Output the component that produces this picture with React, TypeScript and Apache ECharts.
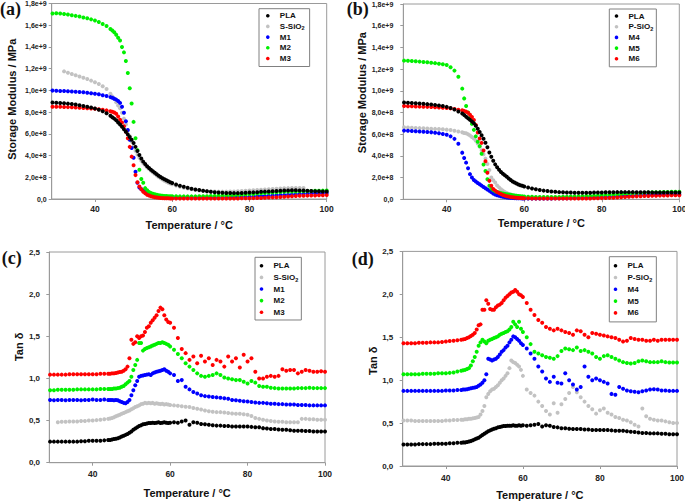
import React, { useEffect, useRef } from "react";
import * as echarts from "echarts";

// Temperature grid (°C) shared by every series
const TEMPS = [
  29, 30, 31, 32, 33, 34, 35, 36, 37, 38, 39, 40, 41, 42, 43, 44,
  44.5, 45, 45.5, 46, 46.5, 47, 47.5, 48, 48.5, 49, 49.5, 50, 50.5, 51, 51.5, 52, 52.5, 53, 53.5, 54, 54.5, 55, 55.5, 56, 56.5, 57, 57.5, 58, 58.5, 59, 59.5, 60,
  61, 62, 63, 64, 65, 66, 67, 68, 69, 70, 71, 72, 73, 74, 75, 76, 77, 78, 79, 80, 81, 82, 83, 84, 85, 86, 87, 88, 89, 90, 91, 92, 93, 94, 95, 96, 97, 98, 99, 100,
];

const X_TICKS = [40, 60, 80, 100];
const MOD_TICKS = ["0,0", "2,0e+8", "4,0e+8", "6,0e+8", "8,0e+8", "1,0e+9", "1,2e+9", "1,4e+9", "1,6e+9", "1,8e+9"];
const TAN_TICKS = ["0,0", "0,5", "1,0", "1,5", "2,0", "2,5"];

// (a) storage modulus, units of 1e8
const PLA_A = [
  8.88, 8.86, 8.84, 8.82, 8.78, 8.74, 8.70, 8.64, 8.57, 8.50, 8.42, 8.33, 8.22, 8.08, 7.90, 7.66,
  7.53, 7.40, 7.25, 7.05, 6.85, 6.65, 6.42, 6.20, 5.95, 5.70, 5.45, 5.15, 4.80, 4.42, 4.05, 3.72, 3.44, 3.22, 3.02, 2.86, 2.70, 2.55, 2.41, 2.28, 2.15, 2.03, 1.92, 1.82, 1.72, 1.63, 1.55, 1.47,
  1.34, 1.22, 1.12, 1.03, 0.95, 0.88, 0.82, 0.76, 0.71, 0.67, 0.63, 0.60, 0.58, 0.56, 0.55, 0.54, 0.54, 0.55, 0.57, 0.59, 0.61, 0.63, 0.66, 0.68, 0.70, 0.72, 0.74, 0.76, 0.78, 0.79, 0.80, 0.80, 0.79, 0.78, 0.76, 0.74, 0.72, 0.71, 0.70, 0.70,
];
const SSIO_A = [
  null, null, null, 11.75, 11.62, 11.50, 11.40, 11.28, 11.16, 11.04, 10.90, 10.75, 10.58, 10.38, 10.12, 9.70,
  9.45, 9.20, 8.90, 8.60, 8.35, 7.95, 7.40, 6.85, 6.30, 5.80, 5.30, 4.85, 4.45, 4.10, 3.80, 3.52, 3.30, 3.10, 2.92, 2.76, 2.60, 2.45, 2.30, 2.16, 2.03, 1.91, 1.80, 1.69, 1.59, 1.50, 1.42, 1.35,
  1.23, 1.13, 1.04, 0.97, 0.90, 0.84, 0.79, 0.75, 0.72, 0.70, 0.69, 0.68, 0.68, 0.68, 0.69, 0.70, 0.72, 0.74, 0.76, 0.78, 0.80, 0.82, 0.85, 0.88, 0.90, 0.93, 0.95, 0.97, 0.99, 1.00, 1.01, 1.02, 1.02, 1.02, null, null, null, null, null, null,
];
const M1_A = [
  9.98, 9.96, 9.95, 9.94, 9.92, 9.90, 9.88, 9.85, 9.82, 9.78, 9.74, 9.70, 9.64, 9.56, 9.48, 9.38,
  9.32, 9.24, 9.15, 9.02, 8.85, 8.50, 7.95, 7.15, 6.35, 5.45, 4.70, 3.80, 2.50, 1.50, 1.05, 0.90, 0.78, 0.64, 0.52, 0.42, 0.35, 0.30, 0.26, 0.23, 0.21, 0.19, 0.17, 0.16, 0.15, 0.14, 0.14, 0.13,
  0.13, 0.13, 0.13, 0.13, 0.13, 0.13, 0.13, 0.13, 0.13, 0.14, 0.14, 0.15, 0.15, 0.16, 0.17, 0.18, 0.19, 0.20, 0.21, 0.22, 0.23, 0.25, 0.27, 0.28, 0.30, 0.32, 0.34, 0.36, 0.38, 0.40, 0.42, 0.44, 0.46, 0.48, 0.50, 0.52, 0.53, 0.54, 0.55, 0.56,
];
const M2_A = [
  17.08, 17.10, 17.08, 17.04, 16.98, 16.92, 16.86, 16.80, 16.72, 16.64, 16.54, 16.44, 16.30, 16.12, 15.92, 15.66,
  15.52, 15.35, 15.12, 14.85, 14.60, 14.00, 13.50, 12.70, 11.60, 10.20, 8.80, 7.10, 5.60, 4.50, 2.70, 1.85, 1.50, 1.00, 0.80, 0.65, 0.55, 0.48, 0.43, 0.39, 0.35, 0.32, 0.30, 0.28, 0.27, 0.26, 0.25, 0.25,
  0.25, 0.24, 0.24, 0.24, 0.24, 0.24, 0.25, 0.25, 0.26, 0.27, 0.28, 0.29, 0.30, 0.32, 0.33, 0.35, 0.37, 0.40, 0.42, 0.45, 0.47, 0.50, 0.53, 0.56, 0.58, 0.60, 0.62, 0.64, 0.66, 0.68, 0.69, 0.70, 0.71, 0.72, 0.73, 0.74, 0.75, 0.76, 0.77, 0.78,
];
const M3_A = [
  8.50, 8.50, 8.49, 8.48, 8.46, 8.44, 8.42, 8.40, 8.38, 8.36, 8.34, 8.31, 8.27, 8.22, 8.16, 8.08,
  8.03, 7.96, 7.85, 7.60, 7.30, 7.05, 6.70, 6.20, 5.60, 4.80, 3.90, 3.10, 2.20, 1.55, 1.15, 0.90, 0.67, 0.52, 0.40, 0.32, 0.26, 0.20, 0.16, 0.13, 0.11, 0.09, 0.08, 0.07, 0.06, 0.06, 0.05, 0.05,
  0.05, 0.05, 0.05, 0.05, 0.05, 0.05, 0.05, 0.05, 0.05, 0.05, 0.05, 0.05, 0.05, 0.05, 0.05, 0.05, 0.05, 0.06, 0.06, 0.07, 0.08, 0.09, 0.10, 0.11, 0.13, 0.15, 0.17, 0.19, 0.21, 0.23, 0.25, 0.27, 0.29, 0.30, 0.31, 0.32, 0.33, 0.34, 0.35, 0.36,
];

// (b) storage modulus, units of 1e8
const PLA_B = [
  8.92, 8.90, 8.88, 8.86, 8.83, 8.80, 8.77, 8.73, 8.69, 8.65, 8.60, 8.52, 8.42, 8.28, 8.10, 7.90,
  7.76, 7.60, 7.46, 7.32, 7.17, 7.00, 6.78, 6.50, 6.20, 5.90, 5.58, 5.22, 4.80, 4.32, 3.92, 3.55, 3.22, 2.95, 2.72, 2.52, 2.36, 2.22, 2.07, 1.92, 1.77, 1.64, 1.54, 1.45, 1.37, 1.30, 1.24, 1.18,
  1.08, 0.99, 0.92, 0.86, 0.80, 0.76, 0.72, 0.69, 0.66, 0.64, 0.63, 0.62, 0.61, 0.61, 0.61, 0.61, 0.61, 0.62, 0.62, 0.63, 0.64, 0.65, 0.65, 0.66, 0.66, 0.66, 0.66, 0.66, 0.65, 0.65, 0.64, 0.64, 0.63, 0.63, 0.63, 0.62, 0.62, 0.62, 0.62, 0.62,
];
const PSIO_B = [
  6.64, 6.62, 6.60, 6.58, 6.56, 6.54, 6.53, 6.51, 6.49, 6.47, 6.45, 6.42, 6.38, 6.32, 6.25, 6.17,
  6.12, 6.08, 6.00, 5.88, 5.75, 5.60, 5.40, 5.15, 4.85, 4.52, 4.15, 3.75, 3.25, 2.70, 2.00, 1.75, 1.55, 1.28, 1.10, 0.93, 0.80, 0.68, 0.58, 0.50, 0.44, 0.39, 0.35, 0.32, 0.29, 0.26, 0.24, 0.22,
  0.19, 0.17, 0.15, 0.14, 0.13, 0.12, 0.12, 0.11, 0.11, 0.11, 0.11, 0.11, 0.11, 0.11, 0.12, 0.12, 0.13, 0.14, 0.15, 0.16, 0.17, 0.19, 0.21, 0.23, 0.25, 0.27, 0.29, 0.31, 0.33, 0.34, 0.35, 0.36, 0.37, 0.38, 0.39, 0.39, 0.40, 0.40, 0.40, 0.40,
];
const M4_B = [
  6.33, 6.31, 6.29, 6.27, 6.24, 6.22, 6.20, 6.17, 6.13, 6.08, 6.02, 5.94, 5.80, 5.57, 5.12, 4.30,
  3.80, 3.38, 2.86, 2.32, 2.00, 1.78, 1.64, 1.50, 1.38, 1.26, 1.14, 1.02, 0.90, 0.78, 0.66, 0.54, 0.45, 0.38, 0.32, 0.27, 0.23, 0.20, 0.17, 0.15, 0.13, 0.12, 0.11, 0.10, 0.09, 0.09, 0.08, 0.08,
  0.08, 0.08, 0.08, 0.08, 0.08, 0.08, 0.08, 0.09, 0.09, 0.10, 0.10, 0.11, 0.12, 0.13, 0.14, 0.15, 0.16, 0.17, 0.19, 0.20, 0.22, 0.24, 0.26, 0.28, 0.30, 0.32, 0.34, 0.36, 0.38, 0.40, 0.41, 0.42, 0.43, 0.44, 0.45, 0.45, 0.46, 0.46, 0.46, 0.46,
];
const M5_B = [
  12.78, 12.77, 12.75, 12.72, 12.69, 12.66, 12.63, 12.59, 12.55, 12.50, 12.44, 12.38, 12.18, 11.86, 11.30, 10.20,
  9.30, 8.60, 8.00, 7.50, 6.95, 6.40, 5.80, 5.30, 4.90, 4.20, 3.20, 2.60, 1.85, 1.25, 1.00, 0.85, 0.75, 0.68, 0.62, 0.57, 0.53, 0.50, 0.47, 0.44, 0.41, 0.38, 0.35, 0.33, 0.31, 0.29, 0.27, 0.26,
  0.24, 0.23, 0.22, 0.21, 0.21, 0.21, 0.21, 0.22, 0.22, 0.23, 0.24, 0.25, 0.26, 0.27, 0.28, 0.30, 0.31, 0.33, 0.35, 0.37, 0.39, 0.41, 0.43, 0.46, 0.48, 0.50, 0.53, 0.55, 0.57, 0.59, 0.61, 0.62, 0.64, 0.65, 0.66, 0.67, 0.68, 0.69, 0.70, 0.70,
];
const M6_B = [
  8.60, 8.58, 8.57, 8.56, 8.54, 8.53, 8.52, 8.50, 8.48, 8.46, 8.44, 8.41, 8.38, 8.33, 8.26, 8.20,
  8.14, 8.08, 7.98, 7.80, 7.58, 7.31, 6.85, 6.15, 5.60, 5.20, 4.50, 3.50, 2.45, 1.70, 1.25, 0.95, 0.80, 0.68, 0.57, 0.48, 0.40, 0.34, 0.29, 0.25, 0.22, 0.19, 0.17, 0.15, 0.13, 0.12, 0.11, 0.10,
  0.09, 0.08, 0.08, 0.07, 0.07, 0.07, 0.07, 0.07, 0.07, 0.07, 0.07, 0.07, 0.07, 0.07, 0.07, 0.08, 0.08, 0.09, 0.10, 0.11, 0.12, 0.13, 0.15, 0.17, 0.19, 0.21, 0.23, 0.25, 0.27, 0.29, 0.30, 0.31, 0.32, 0.33, 0.34, 0.35, 0.36, 0.37, 0.38, 0.38,
];

// (c) tan delta
const PLA_C = [
  0.25, 0.25, 0.25, 0.25, 0.25, 0.25, 0.25, 0.25, 0.255, 0.255, 0.26, 0.26, 0.26, 0.26, 0.265, 0.27,
  0.27, 0.275, 0.28, 0.285, 0.29, 0.30, 0.31, 0.32, 0.33, 0.34, 0.355, 0.37, 0.39, 0.405, 0.42, 0.435, 0.445, 0.455, 0.46, 0.465, 0.47, 0.47, 0.475, 0.47, 0.475, 0.48, 0.47, 0.475, 0.48, 0.475, 0.47, 0.475,
  0.48, 0.475, 0.49, 0.50, 0.45, 0.48, 0.475, 0.46, 0.455, 0.45, 0.445, 0.44, 0.44, 0.435, 0.435, 0.43, 0.43, 0.43, 0.43, 0.43, 0.425, 0.42, 0.42, 0.41, 0.405, 0.40, 0.40, 0.395, 0.39, 0.39, 0.385, 0.38, 0.38, 0.38, 0.375, 0.375, 0.37, 0.37, 0.37, 0.37,
];
const SSIO_C = [
  null, null, 0.48, 0.485, 0.485, 0.49, 0.49, 0.49, 0.495, 0.495, 0.50, 0.50, 0.505, 0.51, 0.515, 0.52,
  0.525, 0.53, 0.54, 0.55, 0.56, 0.57, 0.58, 0.59, 0.60, 0.61, 0.62, 0.635, 0.645, 0.66, 0.67, 0.68, 0.695, 0.70, 0.71, 0.705, 0.71, 0.705, 0.71, 0.70, 0.705, 0.70, 0.695, 0.70, 0.69, 0.695, 0.69, 0.685,
  0.68, 0.675, 0.67, 0.665, 0.66, 0.65, 0.64, 0.63, 0.62, 0.61, 0.605, 0.60, 0.60, 0.595, 0.59, 0.585, 0.58, 0.58, 0.575, 0.57, 0.555, 0.53, 0.52, 0.51, 0.50, 0.495, 0.49, 0.485, 0.485, 0.48, 0.48, 0.48, 0.48, 0.52, 0.52, 0.515, 0.515, 0.51, 0.51, 0.51,
];
const M1_C = [
  0.745, 0.74, 0.745, 0.745, 0.74, 0.745, 0.745, 0.745, 0.74, 0.745, 0.745, 0.75, 0.745, 0.745, 0.75, 0.745,
  0.745, 0.745, 0.74, 0.745, 0.74, 0.73, 0.72, 0.71, 0.705, 0.72, 0.745, 0.80, 0.86, 0.92, 0.97, 1.02, 1.03, 1.035, 1.04, 1.045, 1.05, 1.04, 1.06, 1.07, 1.08, 1.085, 1.09, 1.10, 1.11, 1.09, 1.08, 1.06,
  1.04, 0.97, 0.98, 0.90, 0.87, 0.84, 0.82, 0.80, 0.79, 0.785, 0.78, 0.775, 0.77, 0.765, 0.76, 0.745, 0.74, 0.735, 0.73, 0.725, 0.72, 0.715, 0.71, 0.71, 0.705, 0.70, 0.70, 0.695, 0.695, 0.69, 0.69, 0.69, 0.685, 0.685, 0.685, 0.68, 0.68, 0.68, 0.68, 0.68,
];
const M2_C = [
  0.86, 0.86, 0.865, 0.865, 0.865, 0.865, 0.865, 0.87, 0.87, 0.87, 0.87, 0.87, 0.87, 0.875, 0.875, 0.875,
  0.875, 0.875, 0.88, 0.88, 0.885, 0.89, 0.90, 0.91, 0.93, 0.95, 0.97, 1.02, 1.10, 1.16, 1.22, 1.42, 1.42, 1.33, 1.35, 1.36, 1.37, 1.38, 1.39, 1.40, 1.41, 1.42, 1.42, 1.43, 1.42, 1.41, 1.40, 1.38,
  1.34, 1.29, 1.24, 1.18, 1.14, 1.10, 1.06, 1.03, 1.02, 1.03, 1.04, 1.06, 1.04, 1.01, 1.00, 0.99, 0.98, 0.98, 0.96, 0.94, 0.97, 0.95, 0.91, 0.90, 0.90, 0.89, 0.885, 0.88, 0.88, 0.88, 0.88, 0.88, 0.885, 0.885, 0.885, 0.89, 0.885, 0.885, 0.885, 0.885,
];
const M3_C = [
  1.045, 1.045, 1.045, 1.045, 1.045, 1.05, 1.05, 1.05, 1.05, 1.05, 1.05, 1.05, 1.05, 1.055, 1.055, 1.055,
  1.055, 1.06, 1.06, 1.065, 1.07, 1.075, 1.08, 1.09, 1.11, 1.14, 1.24, 1.46, 1.41, 1.43, 1.50, 1.48, 1.50, 1.51, 1.55, 1.60, 1.62, 1.66, 1.69, 1.72, 1.75, 1.80, 1.84, 1.82, 1.75, 1.70, 1.67, 1.66,
  1.60, 1.48, 1.35, 1.30, 1.22, 1.26, 1.18, 1.27, 1.20, 1.24, 1.16, 1.22, 1.20, 1.14, 1.26, 1.20, 1.24, 1.13, 1.28, 1.20, 1.24, 1.08, 1.00, 1.00, 1.02, 1.03, 1.02, 1.03, 1.11, 1.09, 1.10, 1.10, 1.06, 1.08, 1.10, 1.09, 1.08, 1.08, 1.085, 1.08,
];

// (d) tan delta
const PLA_D = [
  0.25, 0.25, 0.25, 0.25, 0.255, 0.255, 0.255, 0.255, 0.26, 0.26, 0.26, 0.26, 0.265, 0.265, 0.27, 0.27,
  0.275, 0.275, 0.28, 0.285, 0.29, 0.30, 0.31, 0.32, 0.33, 0.345, 0.36, 0.375, 0.39, 0.405, 0.415, 0.425, 0.435, 0.44, 0.45, 0.455, 0.46, 0.465, 0.465, 0.47, 0.47, 0.47, 0.475, 0.47, 0.47, 0.475, 0.47, 0.475,
  0.47, 0.475, 0.48, 0.49, 0.46, 0.475, 0.47, 0.455, 0.45, 0.44, 0.44, 0.435, 0.43, 0.43, 0.43, 0.425, 0.425, 0.42, 0.42, 0.42, 0.42, 0.42, 0.415, 0.41, 0.41, 0.41, 0.405, 0.40, 0.395, 0.39, 0.385, 0.385, 0.38, 0.38, 0.38, 0.375, 0.375, 0.37, 0.37, 0.37,
];
const PSIO_D = [
  0.53, 0.53, 0.53, 0.525, 0.525, 0.525, 0.525, 0.525, 0.525, 0.525, 0.525, 0.53, 0.53, 0.535, 0.535, 0.54,
  0.54, 0.545, 0.545, 0.55, 0.55, 0.555, 0.56, 0.565, 0.57, 0.60, 0.64, 0.70, 0.80, 0.84, 0.87, 0.89, 0.90, 0.92, 0.94, 0.97, 1.00, 1.02, 1.05, 1.08, 1.14, 1.23, 1.21, 1.20, 1.18, 1.16, 1.12, 1.05,
  0.89, 0.85, 0.82, 0.75, 0.70, 0.64, 0.60, 0.73, 0.62, 0.72, 0.78, 0.85, 0.92, 0.86, 0.80, 0.75, 0.70, 0.66, 0.61, 0.65, 0.67, 0.62, 0.60, 0.57, 0.56, 0.54, 0.53, 0.51, 0.48, 0.46, 0.67, 0.58, 0.55, 0.54, 0.53, 0.53, 0.52, 0.51, 0.50, 0.50,
];
const M4_D = [
  0.875, 0.875, 0.875, 0.875, 0.875, 0.875, 0.875, 0.875, 0.875, 0.875, 0.875, 0.88, 0.88, 0.88, 0.885, 0.885,
  0.89, 0.89, 0.895, 0.90, 0.905, 0.91, 0.915, 0.92, 0.935, 0.95, 0.97, 1.00, 1.07, 1.25, 1.24, 1.23, 1.24, 1.25, 1.27, 1.30, 1.33, 1.35, 1.38, 1.40, 1.44, 1.47, 1.51, 1.50, 1.48, 1.46, 1.43, 1.41,
  1.37, 1.31, 1.25, 1.16, 1.10, 1.02, 0.98, 1.04, 0.97, 0.96, 1.08, 1.00, 0.95, 0.89, 0.92, 1.16, 1.04, 1.00, 1.02, 1.00, 0.98, 0.96, 0.84, 0.83, 0.92, 0.90, 0.88, 0.87, 0.865, 0.86, 0.87, 0.88, 0.89, 0.895, 0.89, 0.88, 0.88, 0.875, 0.875, 0.875,
];
const M5_D = [
  1.07, 1.07, 1.07, 1.07, 1.07, 1.075, 1.075, 1.075, 1.075, 1.08, 1.08, 1.08, 1.085, 1.09, 1.10, 1.11,
  1.115, 1.12, 1.13, 1.14, 1.17, 1.22, 1.27, 1.33, 1.40, 1.44, 1.47, 1.45, 1.43, 1.46, 1.47, 1.48, 1.49, 1.50, 1.51, 1.53, 1.54, 1.55, 1.56, 1.57, 1.59, 1.62, 1.68, 1.65, 1.62, 1.68, 1.60, 1.56,
  1.50, 1.42, 1.33, 1.31, 1.29, 1.27, 1.26, 1.25, 1.28, 1.34, 1.37, 1.36, 1.35, 1.38, 1.34, 1.35, 1.33, 1.31, 1.27, 1.25, 1.28, 1.29, 1.27, 1.25, 1.23, 1.21, 1.20, 1.195, 1.20, 1.22, 1.23, 1.22, 1.21, 1.21, 1.21, 1.22, 1.21, 1.205, 1.205, 1.205,
];
const M6_D = [
  1.43, 1.43, 1.43, 1.43, 1.435, 1.435, 1.435, 1.44, 1.44, 1.44, 1.445, 1.45, 1.455, 1.46, 1.465, 1.47,
  1.475, 1.48, 1.49, 1.50, 1.515, 1.53, 1.55, 1.59, 1.64, 1.65, 1.82, 1.82, 1.93, 1.89, 1.83, 1.82, 1.82, 1.85, 1.87, 1.88, 1.90, 1.93, 1.96, 1.98, 2.00, 2.02, 2.03, 2.05, 2.03, 2.00, 1.99, 1.97,
  1.90, 1.82, 1.76, 1.70, 1.67, 1.62, 1.60, 1.58, 1.60, 1.58, 1.56, 1.55, 1.53, 1.58, 1.57, 1.53, 1.50, 1.55, 1.54, 1.53, 1.52, 1.51, 1.50, 1.49, 1.47, 1.45, 1.46, 1.49, 1.48, 1.47, 1.47, 1.46, 1.46, 1.47, 1.46, 1.47, 1.47, 1.47, 1.47, 1.47,
];

const FONT = '"Liberation Sans", Arial, sans-serif';
const BLACK = "#000000";
const GRAY = "#c2c2c2";
const BLUE = "#0000ff";
const GREEN = "#00f000";
const RED = "#ff0000";

const pairs = (vals: (number | null)[]) =>
  TEMPS.map((t, i) => (vals[i] == null ? null : [t, vals[i]])).filter((p) => p !== null);

const PANELS = [
  {
    letter: "(a)", letterX: 0, letterY: 9,
    grid: { left: 51.7, top: 3.5, width: 275, height: 195.5 },
    kind: "mod",
    xLabelMargin: 5, xNameGap: 20.5, yLabelMargin: 5, yNameGap: 34, yNamePad: [0, 0, 0, 4],
    legend: { left: 259, top: 8.7, padding: [2, 5, 3, 7], lineHeight: 10, itemGap: 0.7 },
    series: [["PLA", PLA_A, BLACK], ["S-SiO2", SSIO_A, GRAY], ["M1", M1_A, BLUE], ["M2", M2_A, GREEN], ["M3", M3_A, RED]],
  },
  {
    letter: "(b)", letterX: 346.7, letterY: 9,
    grid: { left: 403.3, top: 4, width: 276, height: 195.3 },
    kind: "mod",
    xLabelMargin: 5.4, xNameGap: 18.5, yLabelMargin: 10, yNameGap: 35, yNamePad: [0, 0, 0, 18],
    legend: { left: 609.3, top: 9, padding: [2, 3, 3, 5.4], lineHeight: 10, itemGap: 0.7 },
    series: [["PLA", PLA_B, BLACK], ["P-SiO2", PSIO_B, GRAY], ["M4", M4_B, BLUE], ["M5", M5_B, GREEN], ["M6", M6_B, RED]],
  },
  {
    letter: "(c)", letterX: 1.7, letterY: 258,
    grid: { left: 49.3, top: 252, width: 275.7, height: 210.7 },
    kind: "tan",
    xLabelMargin: 6.3, xNameGap: 24.5, yLabelMargin: 9.3, yNameGap: 22, yNamePad: [0, 0, 0, 21],
    legend: { left: 255, top: 257.3, padding: [3, 3, 2.3, 4.7], lineHeight: 11, itemGap: 0.6 },
    series: [["PLA", PLA_C, BLACK], ["S-SiO2", SSIO_C, GRAY], ["M1", M1_C, BLUE], ["M2", M2_C, GREEN], ["M3", M3_C, RED]],
  },
  {
    letter: "(d)", letterX: 351.7, letterY: 258.5,
    grid: { left: 402.7, top: 251.4, width: 274.3, height: 214.6 },
    kind: "tan",
    xLabelMargin: 7, xNameGap: 23.8, yLabelMargin: 9.4, yNameGap: 20.5, yNamePad: [0, 4, 0, 0],
    legend: { left: 609.3, top: 256.7, padding: [3.5, 4, 3.5, 4.4], lineHeight: 11, itemGap: 0.8 },
    series: [["PLA", PLA_D, BLACK], ["P-SiO2", PSIO_D, GRAY], ["M4", M4_D, BLUE], ["M5", M5_D, GREEN], ["M6", M6_D, RED]],
  },
];

const AXIS_GRAY = "#9a9a9a";

function buildOption() {
  const grid = PANELS.map((p) => ({
    ...p.grid,
    show: true,
    borderColor: AXIS_GRAY,
    borderWidth: 1,
    backgroundColor: "transparent",
    containLabel: false,
    outerBoundsMode: "none",
  }));

  const xAxis = PANELS.map((p, i) => ({
    type: "value",
    gridIndex: i,
    min: 28.8,
    max: 100,
    axisLine: { show: true, lineStyle: { color: AXIS_GRAY, width: 1 } },
    axisTick: { show: true, length: 3, inside: false, customValues: X_TICKS, lineStyle: { color: AXIS_GRAY } },
    axisLabel: {
      customValues: X_TICKS,
      margin: p.xLabelMargin,
      fontSize: 8.5,
      fontWeight: "bold",
      color: "#222",
      fontFamily: FONT,
    },
    splitLine: { show: false },
    name: "Temperature / °C",
    nameLocation: "middle",
    nameGap: p.xNameGap,
    nameTextStyle: { fontSize: 11, fontWeight: "bold", color: "#111", fontFamily: FONT },
  }));

  const yAxis = PANELS.map((p, i) => {
    const isMod = p.kind === "mod";
    return {
      type: "value",
      gridIndex: i,
      min: 0,
      max: isMod ? 18 : 2.5,
      interval: isMod ? 2 : 0.5,
      axisLine: { show: true, lineStyle: { color: AXIS_GRAY, width: 1 } },
      axisTick: { show: true, length: 3, inside: false, lineStyle: { color: AXIS_GRAY } },
      axisLabel: {
        margin: p.yLabelMargin,
        fontSize: isMod ? 7 : 8,
        fontWeight: "bold",
        color: "#222",
        fontFamily: FONT,
        formatter: (v: number) =>
          isMod ? MOD_TICKS[Math.round(v / 2)] : TAN_TICKS[Math.round(v / 0.5)],
      },
      splitLine: { show: false },
      name: isMod ? "Storage Modulus / MPa" : "Tan δ",
      nameLocation: "middle",
      nameRotate: 90,
      nameGap: p.yNameGap,
      nameTextStyle: {
        fontSize: 11,
        fontWeight: "bold",
        color: "#111",
        fontFamily: FONT,
        padding: p.yNamePad,
      },
    };
  });

  const series: any[] = [];
  PANELS.forEach((p, i) => {
    p.series.forEach(([name, vals, color]: any) => {
      series.push({
        type: "scatter",
        name,
        xAxisIndex: i,
        yAxisIndex: i,
        data: pairs(vals),
        symbol: "circle",
        symbolSize: 4,
        itemStyle: { color, opacity: 1 },
        z: name === "PLA" ? 3 : 2,
        silent: true,
      });
    });
  });

  const legend = PANELS.map((p) => ({
    orient: "vertical",
    left: p.legend.left,
    top: p.legend.top,
    padding: p.legend.padding,
    itemGap: p.legend.itemGap,
    itemWidth: 14,
    itemHeight: 3.6,
    icon: "circle",
    selectedMode: false,
    borderColor: "#808080",
    borderWidth: 1,
    backgroundColor: "#fff",
    data: p.series.map((s: any) => s[0]),
    formatter: (name: string) => (name.endsWith("SiO2") ? `${name.slice(0, -1)}{sub|2}` : name),
    textStyle: {
      fontSize: 8,
      fontWeight: "bold",
      fontFamily: FONT,
      color: "#111",
      lineHeight: p.legend.lineHeight,
      rich: {
        sub: {
          fontSize: 5.5,
          fontWeight: "bold",
          fontFamily: FONT,
          color: "#111",
          verticalAlign: "bottom",
          lineHeight: p.legend.lineHeight,
        },
      },
    },
  }));

  const graphic = PANELS.map((p) => ({
    type: "text",
    x: p.letterX,
    y: p.letterY,
    silent: true,
    style: {
      text: p.letter,
      font: 'bold 18px "Liberation Serif", "Times New Roman", serif',
      fill: "#111",
      verticalAlign: "middle",
    },
  }));

  return {
    animation: false,
    backgroundColor: "#ffffff",
    grid,
    xAxis,
    yAxis,
    legend,
    series,
    graphic,
  };
}

export default function App() {
  const ref = useRef<HTMLDivElement | null>(null);
  useEffect(() => {
    if (!ref.current) return;
    const chart = echarts.init(ref.current, undefined, { renderer: "svg" });
    chart.setOption(buildOption() as any);
    return () => chart.dispose();
  }, []);
  return (
    <div
      ref={ref}
      style={{ position: "absolute", left: 0, top: 0, width: 685, height: 501, background: "#fff" }}
    />
  );
}
